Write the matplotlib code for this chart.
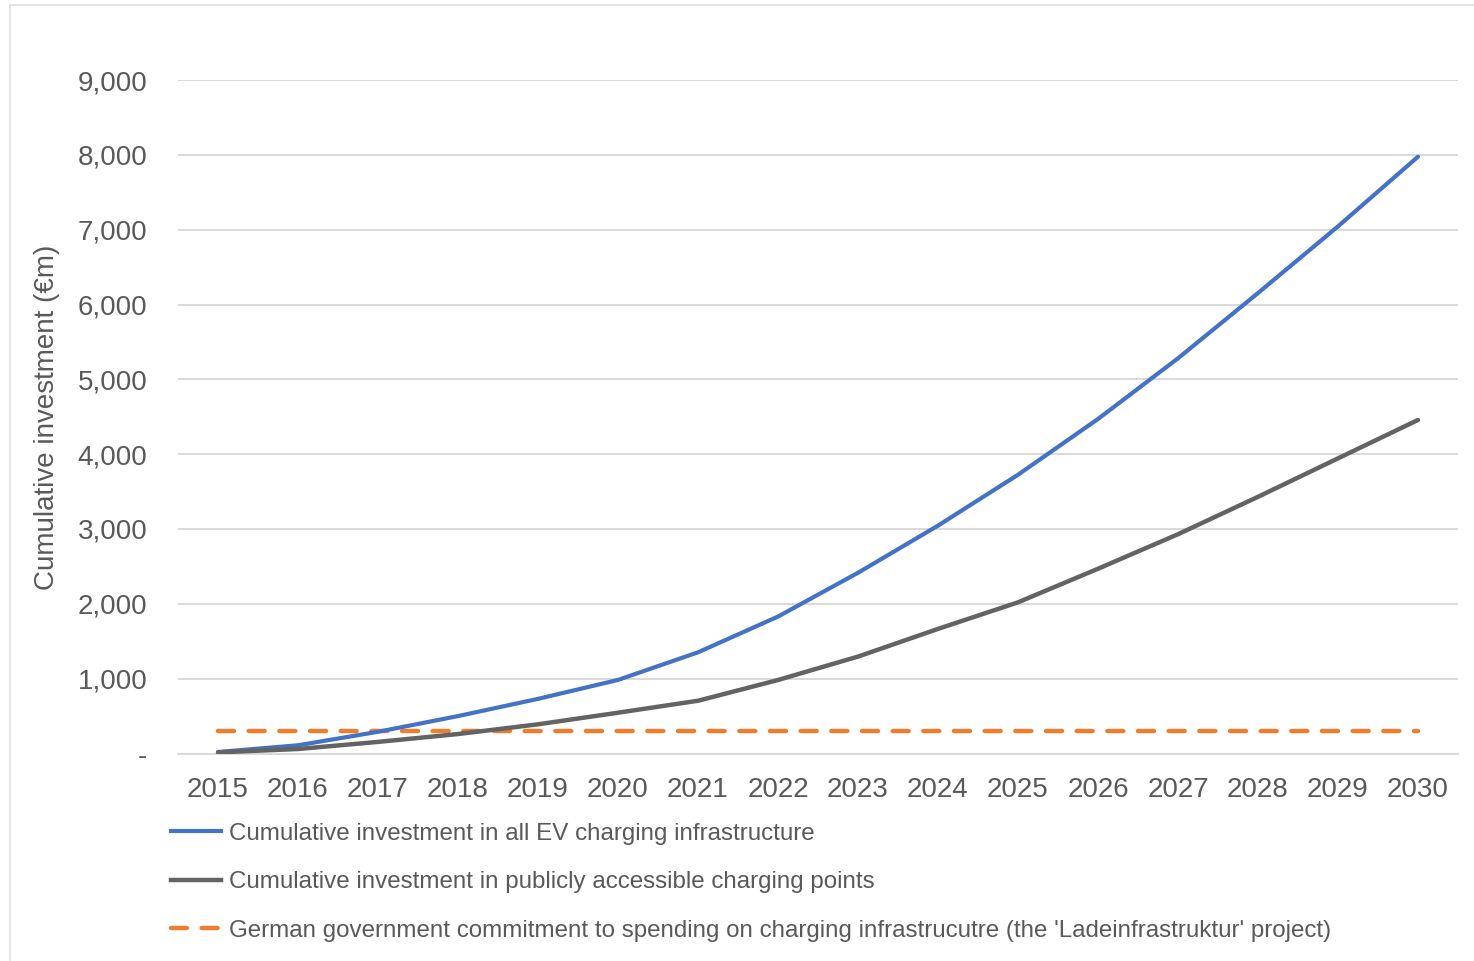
import matplotlib
matplotlib.use("Agg")
import matplotlib.pyplot as plt
from matplotlib.lines import Line2D
from matplotlib.ticker import FuncFormatter, MultipleLocator

# Data (€m, cumulative)
years = list(range(2015, 2031))
all_ev_charging = [20, 110, 290, 500, 730, 983, 1352, 1830, 2415, 3045, 3725,
                   4470, 5281, 6153, 7044, 7975]
public_charging = [15, 60, 155, 260, 390, 545, 705, 982, 1295, 1665, 2020,
                   2469, 2930, 3430, 3944, 4457]
government_commitment = [300] * len(years)

series_labels = [
    "Cumulative investment in all EV charging infrastructure",
    "Cumulative investment in publicly accessible charging points",
    "German government commitment to spending on charging infrastrucutre "
    "(the 'Ladeinfrastruktur' project)",
]
y_label = "Cumulative investment (€m)"

TEXT = "#595959"
BLUE = "#4472C4"
GREY = "#636363"
ORANGE = "#ED7D31"
GRID = "#D9D9D9"

plt.rcParams["font.family"] = ["Liberation Sans", "DejaVu Sans"]

W, H = 1474, 961
fig = plt.figure(figsize=(W / 100, H / 100), dpi=100)
ax = fig.add_axes([178 / W, 1 - 753.5 / H, (1458 - 178) / W, (753.5 - 80) / H])

x = list(range(len(years)))
ax.plot(x, all_ev_charging, color=BLUE, lw=3.0, solid_capstyle="round",
        solid_joinstyle="round", zorder=3)
ax.plot(x, public_charging, color=GREY, lw=3.2, solid_capstyle="round",
        solid_joinstyle="round", zorder=3)
ax.plot(x, government_commitment, color=ORANGE, lw=3.2, dashes=(3.6, 3.3),
        dash_capstyle="round", zorder=2)

ax.set_xlim(-0.5, len(years) - 0.5)
ax.set_ylim(0, 9000)
ax.yaxis.set_major_locator(MultipleLocator(1000))
ax.yaxis.set_major_formatter(
    FuncFormatter(lambda v, p: "-" if v == 0 else f"{v:,.0f}"))
ax.set_xticks(x)
ax.set_xticklabels([str(y) for y in years])

ax.grid(axis="y", color=GRID, lw=1.4)
ax.set_axisbelow(True)
for s in ["top", "right", "left"]:
    ax.spines[s].set_visible(False)
ax.spines["bottom"].set_color(GRID)
ax.spines["bottom"].set_linewidth(1.4)

ax.tick_params(axis="both", length=0, colors=TEXT, labelsize=20)
ax.tick_params(axis="y", pad=22)
ax.tick_params(axis="x", pad=17)

# Axis title placed in figure coordinates, centred on the plot area
fig.text(47 / W, 1 - 417 / H, y_label, rotation=90, fontsize=20, color=TEXT,
         ha="center", va="center")

# Legend below the plot
handles = [
    Line2D([], [], color=BLUE, lw=3.0),
    Line2D([], [], color=GREY, lw=3.2),
    Line2D([], [], color=ORANGE, lw=3.2, dashes=(3.6, 3.3), dash_capstyle="round"),
]
fig.legend(handles, series_labels, loc="upper left",
           bbox_to_anchor=(161 / W, 1 - 813 / H), frameon=False,
           fontsize=17.4, labelcolor=TEXT, handlelength=2.1,
           handletextpad=0.3, labelspacing=1.1, borderaxespad=0)

# Thin outer frame (top and left edges)
fig.add_artist(Line2D([10 / W, 1], [1 - 5 / H, 1 - 5 / H], color="#E0E0E0",
                      lw=1.2, transform=fig.transFigure))
fig.add_artist(Line2D([10 / W, 10 / W], [0, 1 - 5 / H], color="#E0E0E0",
                      lw=1.2, transform=fig.transFigure))

fig.savefig("out.png", dpi=100, facecolor="white")
